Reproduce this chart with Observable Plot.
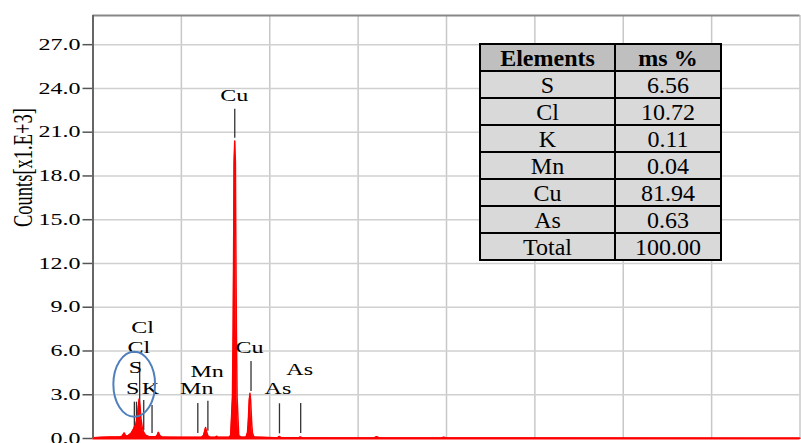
<!DOCTYPE html>
<html><head><meta charset="utf-8">
<script src="https://cdn.jsdelivr.net/npm/d3@7"></script>
<script src="https://cdn.jsdelivr.net/npm/@observablehq/plot@0.6"></script>
<style>
body{margin:0;background:#fff;}
#wrap{position:relative;width:801px;height:443px;overflow:hidden;}
#tbl{position:absolute;left:479px;top:43px;border-collapse:collapse;table-layout:fixed;width:241px;
 font-family:'Liberation Serif',serif;font-size:24px;color:#000;}
#tbl td,#tbl th{font-family:'Liberation Serif',serif !important;font-size:24px;border:2.5px solid #000;padding:0;height:25px;line-height:24px;text-align:center;background:#d9d9d9;font-weight:normal;}
#tbl th{background:#bfbfbf;font-weight:bold;}
</style></head>
<body><div id="wrap"></div>
<script>
// Spectrum: energy (keV) and counts (x1000)
const energy = [0, 0.5, 1.0, 1.5, 1.65, 1.76, 1.87, 2.0, 2.15, 2.25, 2.33, 2.42, 2.50, 2.55, 2.61, 2.66, 2.71, 2.78, 2.86, 2.98, 3.15, 3.35, 3.55, 3.63, 3.70, 3.78, 3.9, 5.0, 6.15, 6.25, 6.32, 6.37, 6.42, 6.5, 6.65, 6.93, 7.0, 7.07, 7.7, 7.79, 7.89, 7.93, 7.963, 7.983, 8.02, 8.057, 8.077, 8.113, 8.153, 8.246, 8.4, 8.66, 8.74, 8.78, 8.81, 8.84, 8.88, 8.92, 8.95, 8.98, 9.02, 9.10, 10.3, 10.45, 10.54, 10.63, 11.65, 11.73, 11.81, 15.9, 16.05, 16.2, 19.7, 19.85, 20.0, 40];
const counts = [0.05, 0.08, 0.1, 0.1, 0.15, 0.38, 0.15, 0.2, 0.35, 0.55, 0.75, 0.95, 1.4, 2.0, 2.7, 2.2, 1.4, 0.8, 0.45, 0.22, 0.14, 0.12, 0.12, 0.2, 0.42, 0.2, 0.1, 0.08, 0.08, 0.2, 0.5, 0.75, 0.5, 0.18, 0.08, 0.08, 0.15, 0.08, 0.08, 0.2, 2.8, 7.4, 14.3, 18.9, 20.4, 18.9, 14.3, 7.4, 2.8, 0.2, 0.08, 0.1, 0.4, 1.0, 1.8, 2.6, 3.1, 2.6, 1.8, 1.0, 0.4, 0.1, 0.06, 0.06, 0.14, 0.06, 0.05, 0.1, 0.05, 0.04, 0.12, 0.04, 0.03, 0.08, 0.03, 0.02];

// Peak marker lines: energy, bottom and top (counts)
const markerEnergy = [2.34, 2.46, 2.64, 2.87, 3.34, 5.93, 6.50, 8.02, 8.94, 10.55, 11.75];
const markerLow    = [0.43, 0.43, 0.41, 0.55, 0.34, 0.34, 0.50, 20.58, 3.22, 0.32, 0.34];
const markerHigh   = [2.49, 2.49, 5.23, 2.60, 2.26, 2.40, 2.56, 22.57, 5.28, 2.38, 2.40];

// Peak labels
const labelText   = ["Cl", "Cl", "S", "S", "K", "Mn", "Mn", "Cu", "Cu", "As", "As"];
const labelEnergy = [2.80, 2.59, 2.40, 2.25, 3.25, 6.46, 5.87, 8.86, 7.99, 11.69, 10.46];
const labelCounts = [7.2, 5.83, 4.46, 3.02, 3.02, 4.25, 3.02, 5.83, 23.13, 4.32, 3.02];

// Axis ticks
const yTicks = [0, 3, 6, 9, 12, 15, 18, 21, 24, 27];
const xGrid = [5, 10, 15, 20, 25, 30, 35, 40];

// Table
const elements = ["S", "Cl", "K", "Mn", "Cu", "As", "Total"];
const msPct = ["6.56", "10.72", "0.11", "0.04", "81.94", "0.63", "100.00"];

const spec = energy.map((e, i) => ({e, c: counts[i]}));
const markers = markerEnergy.map((e, i) => ({e, y1: markerLow[i], y2: markerHigh[i]}));
const labels = labelText.map((t, i) => ({t, e: labelEnergy[i], y: labelCounts[i]}));

const chart = Plot.plot({
  width: 801, height: 443,
  marginLeft: 92.5, marginRight: 1.5, marginTop: 15, marginBottom: 5,
  style: {fontFamily: "Liberation Serif, Times New Roman, serif", fontSize: "16px", background: "#fff", color: "#000"},
  x: {domain: [0, 40], axis: null},
  y: {domain: [0, 29]},
  marks: [
    Plot.gridX(xGrid, {stroke: "#c8c8c8", strokeOpacity: 1, strokeWidth: 1.5}),
    Plot.gridY(yTicks.slice(1), {stroke: "#d0d0d0", strokeOpacity: 1, strokeWidth: 1.5}),
    Plot.ruleY([29], {stroke: "#888", strokeWidth: 2}),
    Plot.axisY(yTicks, {tickSize: 10, tickPadding: 2.5, tickFormat: d3.format(".1f"), label: null, fontSize: 16, stroke: "#555", strokeWidth: 1.5}),
    Plot.ruleX(markers, {x: "e", y1: "y1", y2: "y2", stroke: "#333", strokeWidth: 1.3}),
    Plot.areaY(spec, {x: "e", y: "c", fill: "#ff0000"}),
    Plot.lineY(spec, {x: "e", y: "c", stroke: "#ff0000", strokeWidth: 1.5}),
    Plot.ruleY([0], {stroke: "#ff0000", strokeWidth: 2}),
    Plot.ruleX([0], {stroke: "#666", strokeWidth: 2}),
    Plot.text(labels, {x: "e", y: "y", text: "t", lineAnchor: "bottom", fontSize: 16, fill: "#000"}),
    Plot.text(["Counts[x1.E+3]"], {frameAnchor: "left", rotate: -90, dx: -61, lineAnchor: "bottom", fontSize: 18.5, fill: "#000"})
  ]
});

const wrap = document.getElementById("wrap");
wrap.appendChild(chart);

// horizontal stretching of glyphs as in the reference
const SX = 1.5;
chart.querySelectorAll("text").forEach(t => {
  const tr = t.getAttribute("transform") || "";
  if (tr.includes("rotate(")) {
    t.setAttribute("transform", tr.replace("rotate(", `scale(${SX},1) rotate(`));
  } else {
    const L = t.getComputedTextLength();
    t.setAttribute("textLength", L * SX);
    t.setAttribute("lengthAdjust", "spacingAndGlyphs");
  }
});

// ellipse highlight around S / Cl peaks
const sx = chart.scale("x"), sy = chart.scale("y");
const cx = sx.apply(2.36), cy = sy.apply(3.69);
const rx = sx.apply(2.36 + 1.18) - cx, ry = cy - sy.apply(3.69 + 2.23);
d3.select(chart).append("ellipse")
  .attr("cx", cx).attr("cy", cy).attr("rx", rx).attr("ry", ry)
  .attr("fill", "none").attr("stroke", "#4f7fbd").attr("stroke-width", 2);

// table
const tbl = document.createElement("table");
tbl.id = "tbl";
let html = '<colgroup><col style="width:135px"><col style="width:106px"></colgroup>';
html += "<tr><th>Elements</th><th>ms %</th></tr>";
elements.forEach((el, i) => { html += `<tr><td>${el}</td><td>${msPct[i]}</td></tr>`; });
tbl.innerHTML = html;
wrap.appendChild(tbl);
</script>
</body></html>
